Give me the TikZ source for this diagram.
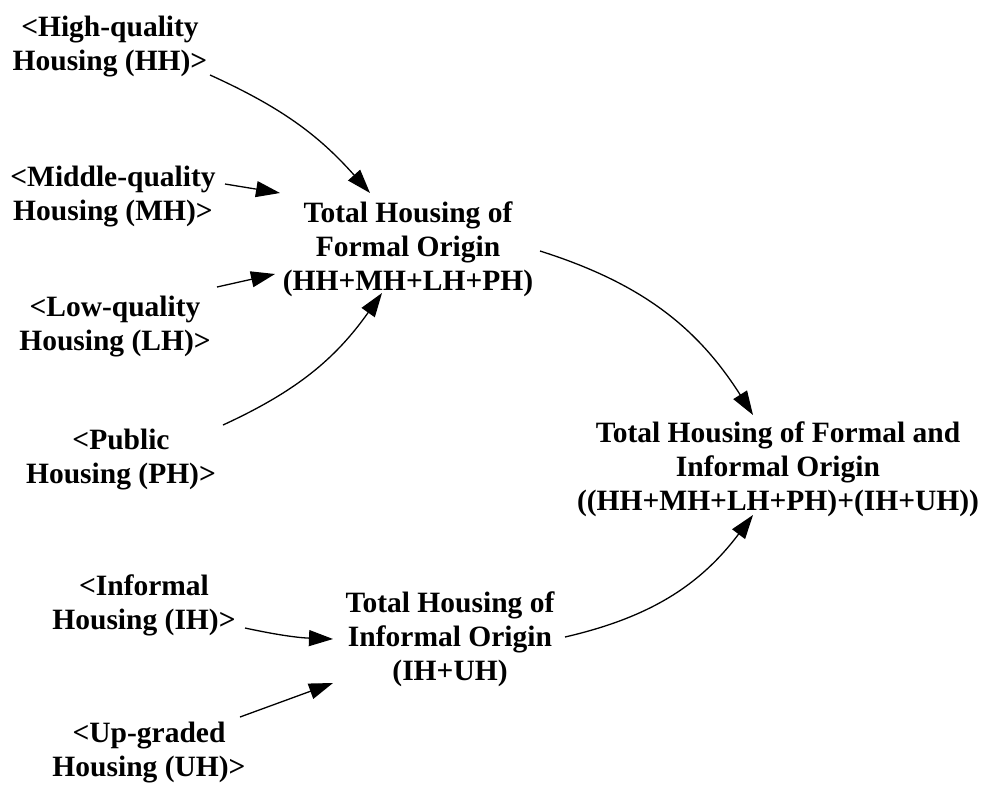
\documentclass[tikz,border=0pt]{standalone}
\usepackage{fontspec}
\setmainfont{Liberation Serif}
\usetikzlibrary{arrows.meta,calc}
\begin{document}
\begin{tikzpicture}[x=1pt,y=-1pt,
  var/.style={align=center,inner sep=0pt,font=\bfseries\fontsize{29.5}{34}\selectfont},
  link/.style={line width=1.3pt,-{Triangle[length=24pt,width=16pt]}}]
\useasboundingbox (0,0) rectangle (984,785);

% variables
\node[var] (hh) at (110,47) {<High-quality\\Housing (HH)>};
\node[var] (mh) at (113,197) {<Middle-quality\\Housing (MH)>};
\node[var] (lh) at (115,327) {<Low-quality\\Housing (LH)>};
\node[var] (ph) at (121,460) {<Public\\Housing (PH)>};
\node[var] (formal) at (408,249) {Total Housing of\\Formal Origin\\(HH+MH+LH+PH)};
\node[var] (total) at (778,469) {Total Housing of Formal and\\Informal Origin\\((HH+MH+LH+PH)+(IH+UH))};
\node[var] (ih) at (144,605) {<Informal\\Housing (IH)>};
\node[var] (informal) at (450,639) {Total Housing of\\Informal Origin\\(IH+UH)};
\node[var] (uh) at (149,753) {<Up-graded\\Housing (UH)>};

% causal links
\draw[link] ($(hh)+(100,28)$) to[bend left=12] ($(formal)+(-38,-56)$);
\draw[link] ($(mh)+(112,-13)$) -- ($(formal)+(-128,-56)$);
\draw[link] ($(lh)+(102,-40)$) -- ($(formal)+(-133,25)$);
\draw[link] ($(ph)+(102,-35)$) to[bend right=15] ($(formal)+(-26,44)$);
\draw[link] ($(formal)+(132,2)$) to[bend left=20] ($(total)+(-25,-54)$);
\draw[link] ($(ih)+(101,23)$) to[bend right=5] ($(informal)+(-117,0)$);
\draw[link] ($(uh)+(91,-36)$) -- ($(informal)+(-117,44)$);
\draw[link] ($(informal)+(115,-2)$) to[bend right=20] ($(total)+(-25,46)$);
\end{tikzpicture}
\end{document}
